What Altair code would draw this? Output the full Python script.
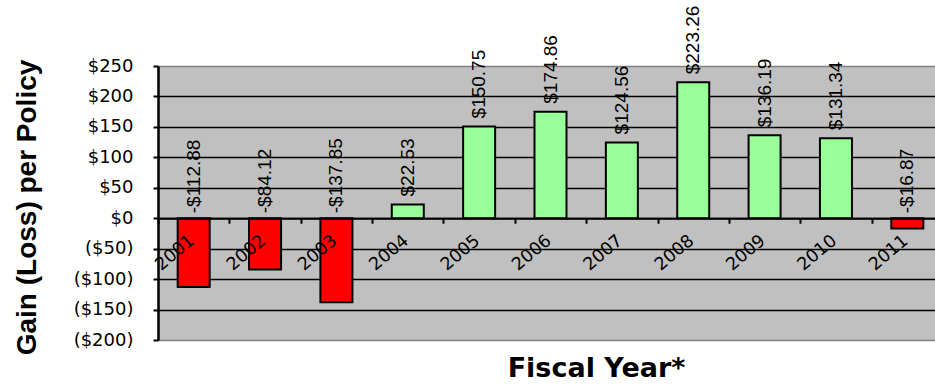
import altair as alt
import pandas as pd

# Gain / loss per policy by fiscal year
years = ["2001", "2002", "2003", "2004", "2005", "2006", "2007", "2008", "2009", "2010", "2011"]
gain = [-112.88, -84.12, -137.85, 22.53, 150.75, 174.86, 124.56, 223.26, 136.19, 131.34, -16.87]
y_ticks = [-200, -150, -100, -50, 0, 50, 100, 150, 200, 250]

df = pd.DataFrame({"year": years, "gain": gain})
df["label"] = [("-$%.2f" % -v) if v < 0 else ("$%.2f" % v) for v in gain]
df["sign"] = ["loss" if v < 0 else "gain" for v in gain]
df["labelY"] = [v if v > 0 else 0 for v in gain]

x_enc = alt.X(
    "year:N",
    sort=years,
    scale=alt.Scale(range=[0, 785], paddingInner=0, paddingOuter=0),
    axis=alt.Axis(
        zindex=1,
        labelAngle=-40,
        labelAlign="right",
        labelBaseline="middle",
        labelFont="DejaVu Sans",
        labelFontSize=17.5,
        labelColor="black",
        labelPadding=15,
        labelOffset=-2,
        labelOverlap=False,
        tickBand="extent",
        tickSize=5,
        tickWidth=2,
        tickColor="black",
        domainColor="black",
        domainWidth=2,
        grid=False,
        offset=-121.8,
        title="Fiscal Year*",
        titleFont="DejaVu Sans",
        titleFontSize=27,
        titleFontWeight="bold",
        titleColor="black",
        titleAlign="center",
        titleBaseline="alphabetic",
        titleX=438,
        titleY=158.5,
    ),
)

y_axis = alt.Axis(
    values=y_ticks,
    labelExpr="datum.value < 0 ? '($' + abs(datum.value) + ')' : '$' + datum.value",
    labelFont="DejaVu Sans",
    labelFontSize=18,
    labelColor="black",
    labelPadding=20,
    tickSize=5,
    tickWidth=2,
    tickColor="black",
    domainColor="black",
    domainWidth=2.5,
    grid=True,
    gridColor={"condition": {"test": "datum.value == 250 || datum.value == -200", "value": "#808080"},
               "value": "black"},
    gridWidth=1.6,
    title="Gain (Loss) per Policy",
    titleFont="Liberation Sans",
    titleFontSize=28,
    titleFontWeight="bold",
    titleColor="black",
    titleAngle=270,
    titleAlign="center",
    titleBaseline="middle",
    titleX=-131,
    titleY=141,
)
y_scale = alt.Scale(domain=[-200, 250], nice=False, zero=False)

base = alt.Chart(df)

bars = base.mark_bar(size=32, stroke="black", strokeWidth=2).encode(
    x=x_enc,
    y=alt.Y("gain:Q", scale=y_scale, axis=y_axis),
    color=alt.Color("sign:N", scale=alt.Scale(domain=["gain", "loss"], range=["#99FF99", "#FF0000"]), legend=None),
)

text_style = dict(angle=270, align="left", baseline="middle", font="Liberation Sans", fontSize=19, color="black")

labels_gain = base.transform_filter("datum.gain > 0").mark_text(dx=8, **text_style).encode(
    x=x_enc,
    y=alt.Y("labelY:Q", scale=y_scale, axis=y_axis),
    text="label:N",
)
labels_loss = base.transform_filter("datum.gain < 0").mark_text(dx=5, **text_style).encode(
    x=x_enc,
    y=alt.Y("labelY:Q", scale=y_scale, axis=y_axis),
    text="label:N",
)

chart = (
    alt.layer(bars, labels_gain, labels_loss)
    .properties(
        width=777,
        height=274,
        autosize=alt.AutoSizeParams(type="none"),
        padding={"left": 158, "top": 66, "right": 0, "bottom": 46},
        background="white",
    )
    .configure_view(fill="#C0C0C0", strokeWidth=0)
)

chart.save("out.html", embed_options={"renderer": "svg", "actions": False})
